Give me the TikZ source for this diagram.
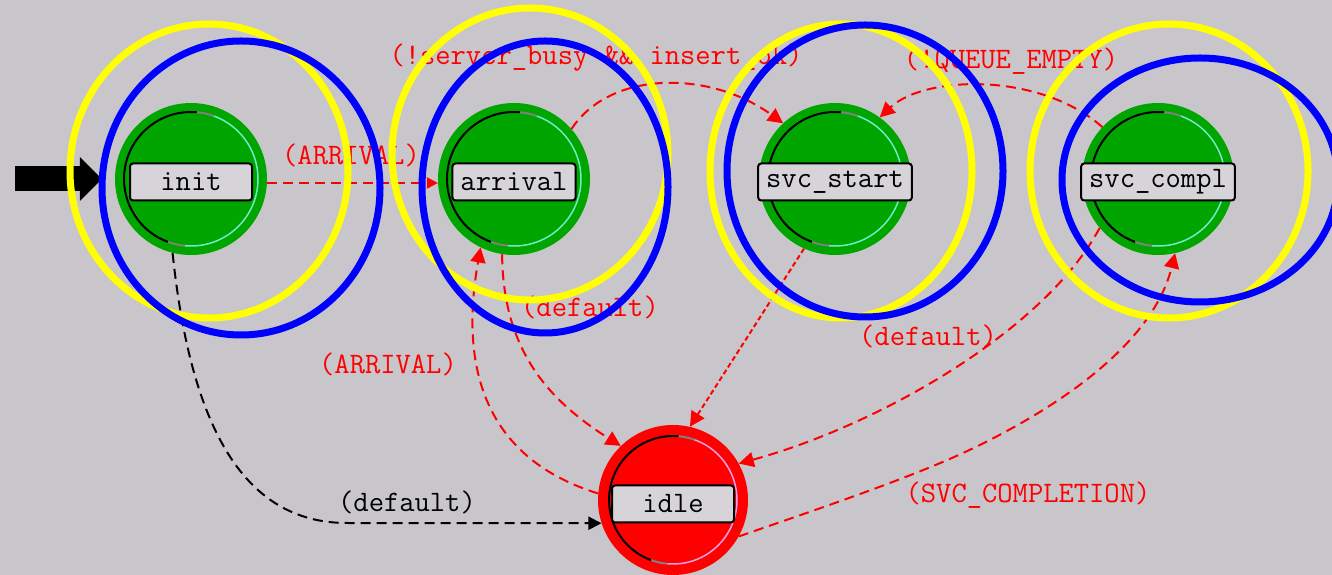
\documentclass[tikz,border=0pt]{standalone}
\usepackage{fontspec}
\usetikzlibrary{arrows.meta,calc}
\definecolor{bgc}{RGB}{200,198,202}
\definecolor{stgreen}{RGB}{0,165,0}
\definecolor{stred}{RGB}{255,0,0}
\definecolor{ringcyan}{RGB}{110,235,200}
\definecolor{ringpink}{RGB}{240,160,235}
\definecolor{ringgray}{RGB}{128,128,128}
\definecolor{boxfill}{RGB}{214,212,216}
\definecolor{annyellow}{RGB}{255,255,0}
\definecolor{annblue}{RGB}{0,0,255}
\newcommand\lblfont{\ttfamily\fontsize{29.7}{32}\selectfont}
\begin{document}
\begin{tikzpicture}[x=1pt,y=1pt,
  greenstate/.style={circle, fill=stgreen, minimum size=152pt, inner sep=0pt},
  redstate/.style={circle, fill=stred, minimum size=150pt, inner sep=0pt},
  namebox/.style={draw=black, line width=2pt, fill=boxfill, rounded corners=3pt,
    minimum width=122pt, minimum height=37pt, inner xsep=8pt, inner ysep=0pt,
    font=\lblfont, text=black},
  trans/.style={draw=stred, line width=2pt, dash pattern=on 10pt off 6pt,
    -{Triangle[length=15pt,width=15pt]}},
  finetrans/.style={trans, dash pattern=on 5pt off 3pt},
  blacktrans/.style={draw=black, line width=2pt, dash pattern=on 10pt off 6pt,
    -{Triangle[length=13pt,width=13pt]}},
  translbl/.style={text=stred, inner sep=0pt, font=\lblfont},
  blacklbl/.style={text=black, inner sep=0pt, font=\lblfont},
  annring/.style={line width=7pt}
]
\fill[bgc] (0,0) rectangle (1332,575);
\path[use as bounding box] (0,0) rectangle (1332,575);
\clip (0,0) rectangle (1332,575);

% states
\node[greenstate] (init) at (191,396) {};
\node[greenstate] (arrival) at (514,396) {};
\node[greenstate] (svcstart) at (835,396) {};
\node[greenstate] (svccompl) at (1158,396) {};
\node[redstate] (idle) at (673,75) {};

\foreach \n in {init,arrival,svcstart,svccompl}{
  \draw[black, line width=2pt] ([shift={(85:67)}]\n.center) arc[start angle=85, end angle=250, radius=67];
  \draw[ringgray, line width=2pt] ([shift={(250:67)}]\n.center) arc[start angle=250, end angle=265, radius=67];
  \draw[ringgray, line width=2pt] ([shift={(70:67)}]\n.center) arc[start angle=70, end angle=85, radius=67];
  \draw[ringcyan, line width=1.5pt] ([shift={(-95:67)}]\n.center) arc[start angle=-95, end angle=70, radius=67];
}
\draw[black, line width=2pt] ([shift={(85:64)}]idle.center) arc[start angle=85, end angle=250, radius=64];
\draw[ringgray, line width=2pt] ([shift={(250:64)}]idle.center) arc[start angle=250, end angle=265, radius=64];
\draw[ringgray, line width=2pt] ([shift={(70:64)}]idle.center) arc[start angle=70, end angle=85, radius=64];
\draw[ringpink, line width=1.5pt] ([shift={(-95:64)}]idle.center) arc[start angle=-95, end angle=70, radius=64];

\node[namebox] (initname) at ([yshift=-3pt]init.center) {init};
\node[namebox] (arrivalname) at ([yshift=-3pt]arrival.center) {arrival};
\node[namebox] (svcstartname) at ([yshift=-3pt]svcstart.center) {svc\_start};
\node[namebox] (svccomplname) at ([yshift=-3pt]svccompl.center) {svc\_compl};
\node[namebox] (idlename) at ([yshift=-4pt]idle.center) {idle};

% initial arrow
\coordinate (entry) at (15,396);
\draw[line width=25pt, -{Triangle[length=22pt,width=43pt]}, shorten >=13pt] (entry) -- (init.west);

% transitions
\draw[trans, -{Triangle[length=11pt,width=11pt]}] (init.-3) -- (arrival.183);
\draw[trans] (arrival.41) .. controls (610,505) and (710,505) .. (svcstart.133);
\draw[trans] (svccompl.137) .. controls (1040,503) and (925,500) .. (svcstart.54.5);
\draw[trans] (arrival.261) .. controls (503,225) and (548,175) .. (idle.134);
\draw[trans] (idle.175) .. controls (490,115) and (458,200) .. (arrival.244);
\draw[finetrans] (svcstart.246) -- (idle.77);
\draw[trans] (svccompl.220) .. controls (1045,245) and (880,150) .. (idle.29.5);
\draw[trans] (idle.-29) .. controls (800,60) and (900,93) .. (963,122)
   .. controls (1030,153) and (1150,220) .. (svccompl.283);
\draw[blacktrans] (init.256) .. controls (190,155) and (240,52) .. (347,52) -- (idle.198);

% labels
\node[translbl] (lblarr1) at (351,420) {(ARRIVAL)};
\node[translbl] (lblbusy) at (596,517) {(!server\_busy \&\& insert\_ok)};
\node[translbl] (lblqueue) at (1011,514) {(!QUEUE\_EMPTY)};
\node[translbl] (lbldef1) at (590,268) {(default)};
\node[translbl] (lblarr2) at (388,211) {(ARRIVAL)};
\node[blacklbl] (lbldef0) at (407,73) {(default)};
\node[translbl] (lbldef2) at (928,239) {(default)};
\node[translbl] (lblsvc) at (1028,80) {(SVC\_COMPLETION)};

% annotation rings
\draw[annring, annyellow] (209,404) ellipse[x radius=139, y radius=147];
\draw[annring, annyellow] (530,421) ellipse[x radius=138, y radius=146];
\draw[annring, annyellow] (841,404) ellipse[x radius=131, y radius=147];
\draw[annring, annyellow] (1169,404) ellipse[x radius=139, y radius=147];
\draw[annring, annblue] (241,387) ellipse[x radius=139, y radius=147];
\draw[annring, annblue] (545,388) ellipse[x radius=123, y radius=146];
\draw[annring, annblue] (865,404) ellipse[x radius=138, y radius=146];
\draw[annring, annblue] (1200,395) ellipse[x radius=138, y radius=122];
\end{tikzpicture}
\end{document}
